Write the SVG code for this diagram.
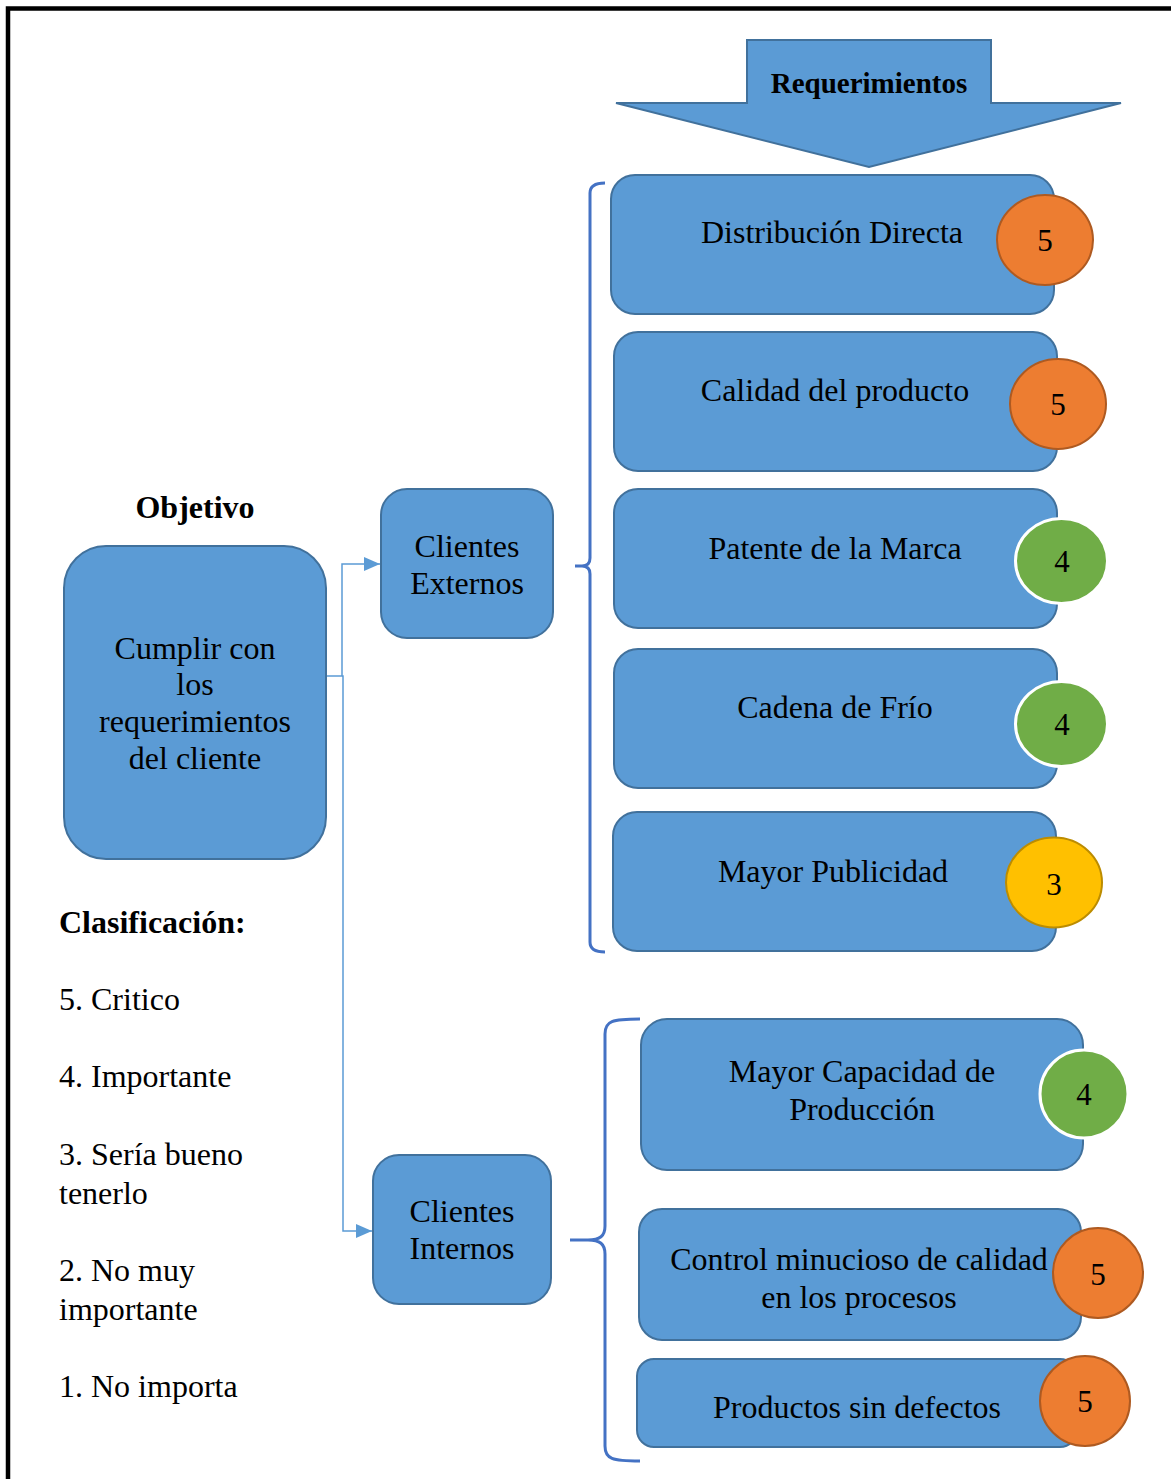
<svg xmlns="http://www.w3.org/2000/svg" width="1171" height="1479" viewBox="0 0 1171 1479">
  <style>
    text { font-family: "Liberation Serif", "Times New Roman", serif; fill: #000; }
    .lbl { font-size: 32px; text-anchor: middle; }
    .num { font-size: 31px; text-anchor: middle; }
    .bold { font-weight: bold; }
    .legend { font-size: 32px; }
    .box { fill: #5B9BD5; stroke: #41719C; stroke-width: 2; }
    .brace { fill: none; stroke: #4472C4; stroke-width: 3; stroke-linecap: butt; stroke-linejoin: round; }
    .link { fill: none; stroke: #5B9BD5; stroke-width: 1.5; }
    .crit { fill: #ED7D31; stroke: #AE5A21; stroke-width: 2; }
    .imp { fill: #70AD47; stroke: #FFFFFF; stroke-width: 3; }
    .nice { fill: #FFC000; stroke: #BC8C00; stroke-width: 2; }
  </style>
  <defs>
    <marker id="arrow" viewBox="0 0 16 14" refX="16" refY="7" markerWidth="16" markerHeight="14" markerUnits="userSpaceOnUse" orient="auto">
      <path d="M0,0 L16,7 L0,14 Z" fill="#5B9BD5"/>
    </marker>
  </defs>

  <rect width="1171" height="1479" fill="#FFFFFF"/>
  <!-- page frame -->
  <rect x="8" y="8.5" width="1200" height="1520" fill="none" stroke="#000" stroke-width="4.5"/>

  <!-- heading arrow -->
  <g id="requerimientos">
    <path d="M747,40 H991 V103 H1121 L869,167 L616,103 H747 Z" fill="#5B9BD5" stroke="#41719C" stroke-width="2"/>
    <text class="lbl bold" x="869" y="93" style="font-size:29px">Requerimientos</text>
  </g>

  <!-- objective -->
  <g id="objetivo">
    <text class="lbl bold" x="195" y="518">Objetivo</text>
    <rect class="box" x="64" y="546" width="262" height="313" rx="42"/>
    <text class="lbl" x="195" y="659">Cumplir con</text>
    <text class="lbl" x="195" y="695">los</text>
    <text class="lbl" x="195" y="732">requerimientos</text>
    <text class="lbl" x="195" y="769">del cliente</text>
  </g>

  <!-- client groups -->
  <g id="clientes-externos">
    <rect class="box" x="381" y="489" width="172" height="149" rx="26"/>
    <text class="lbl" x="467" y="557">Clientes</text>
    <text class="lbl" x="467" y="594">Externos</text>
  </g>
  <g id="clientes-internos">
    <rect class="box" x="373" y="1155" width="178" height="149" rx="26"/>
    <text class="lbl" x="462" y="1222">Clientes</text>
    <text class="lbl" x="462" y="1259">Internos</text>
  </g>

  <!-- connectors -->
  <g id="connectors">
    <path class="link" d="M327,676 H342 V564 H380" marker-end="url(#arrow)"/>
    <path class="link" d="M342,676 H343 V1231 H372" marker-end="url(#arrow)"/>
    <path class="brace" d="M605,183 Q590,183 590,193 V558 Q590,566 582,566 H575 M582,566 Q590,566 590,574 V942 Q590,952 605,952"/>
    <path class="brace" d="M640,1019 C612,1019 605,1021 605,1034 V1226 C605,1236 600,1240 588,1240 H570 M588,1240 C600,1240 605,1244 605,1254 V1446 C605,1459 612,1461 640,1461"/>
  </g>

  <!-- external requirements -->
  <g id="distribucion-directa">
    <rect class="box" x="611" y="175" width="443" height="139" rx="24"/>
    <text class="lbl" x="832" y="243">Distribución Directa</text>
    <ellipse class="crit" cx="1045" cy="240" rx="48" ry="45"/>
    <text class="num" x="1045" y="251">5</text>
  </g>
  <g id="calidad-producto">
    <rect class="box" x="614" y="332" width="443" height="139" rx="24"/>
    <text class="lbl" x="835" y="401">Calidad del producto</text>
    <ellipse class="crit" cx="1058" cy="404" rx="48" ry="45"/>
    <text class="num" x="1058" y="415">5</text>
  </g>
  <g id="patente-marca">
    <rect class="box" x="614" y="489" width="443" height="139" rx="24"/>
    <text class="lbl" x="835" y="559">Patente de la Marca</text>
    <ellipse class="imp" cx="1061.5" cy="561" rx="46" ry="42.5"/>
    <text class="num" x="1062" y="572">4</text>
  </g>
  <g id="cadena-frio">
    <rect class="box" x="614" y="649" width="443" height="139" rx="24"/>
    <text class="lbl" x="835" y="718">Cadena de Frío</text>
    <ellipse class="imp" cx="1061.5" cy="724" rx="46" ry="42.5"/>
    <text class="num" x="1062" y="735">4</text>
  </g>
  <g id="mayor-publicidad">
    <rect class="box" x="613" y="812" width="443" height="139" rx="24"/>
    <text class="lbl" x="833" y="882">Mayor Publicidad</text>
    <ellipse class="nice" cx="1054" cy="882.5" rx="48" ry="45"/>
    <text class="num" x="1054" y="895">3</text>
  </g>

  <!-- internal requirements -->
  <g id="capacidad-produccion">
    <rect class="box" x="641" y="1019" width="442" height="151" rx="26"/>
    <text class="lbl" x="862" y="1082">Mayor Capacidad de</text>
    <text class="lbl" x="862" y="1120">Producción</text>
    <circle class="imp" cx="1084" cy="1094" r="44"/>
    <text class="num" x="1084" y="1105">4</text>
  </g>
  <g id="control-calidad">
    <rect class="box" x="639" y="1209" width="442" height="131" rx="23"/>
    <text class="lbl" x="859" y="1270">Control minucioso de calidad</text>
    <text class="lbl" x="859" y="1308">en los procesos</text>
    <circle class="crit" cx="1098" cy="1273" r="45"/>
    <text class="num" x="1098" y="1285">5</text>
  </g>
  <g id="sin-defectos">
    <rect class="box" x="637" y="1359" width="440" height="88" rx="17"/>
    <text class="lbl" x="857" y="1418">Productos sin defectos</text>
    <circle class="crit" cx="1085" cy="1401" r="45"/>
    <text class="num" x="1085" y="1412">5</text>
  </g>

  <!-- rating legend -->
  <g id="clasificacion">
    <text class="legend bold" x="59" y="933">Clasificación:</text>
    <text class="legend" x="59" y="1010">5. Critico</text>
    <text class="legend" x="59" y="1087">4. Importante</text>
    <text class="legend" x="59" y="1165">3. Sería bueno</text>
    <text class="legend" x="59" y="1204">tenerlo</text>
    <text class="legend" x="59" y="1281">2. No muy</text>
    <text class="legend" x="59" y="1320">importante</text>
    <text class="legend" x="59" y="1397">1. No importa</text>
  </g>
</svg>
